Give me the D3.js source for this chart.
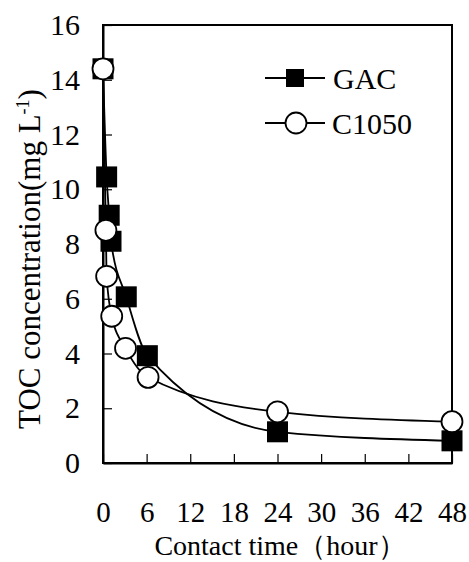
<!DOCTYPE html>
<html lang='en'>
	<head>
		<meta charset='utf-8'>
		<title>TOC concentration vs contact time</title>
		<script type='text/javascript' src='https://cdn.jsdelivr.net/npm/d3@7'></script>
		<style>
			body { margin: 0; background: #fff; }
			text { font-family: 'Liberation Serif', 'Times New Roman', serif; fill: #000; }
		</style>
	</head>
	<body>
		<script type='text/javascript'>
		// data
		var gac_time = [0, 0.5, 0.85, 1.1, 3.2, 6.1, 24, 48];
		var gac_toc  = [14.4, 10.45, 9.05, 8.1, 6.07, 3.92, 1.14, 0.81];
		var c1050_time = [0, 0.4, 0.5, 1.2, 3.1, 6.2, 24, 48];
		var c1050_toc  = [14.4, 8.5, 6.82, 5.36, 4.19, 3.13, 1.87, 1.51];
		var x_ticks = [0, 6, 12, 18, 24, 30, 36, 42, 48];
		var y_ticks = [0, 2, 4, 6, 8, 10, 12, 14, 16];
		var series_names = ['GAC', 'C1050'];

		{
			var width = 469, height = 562;
			var plot_left = 103, plot_right = 452, plot_top = 25, plot_bottom = 463;
			var svg_elem = d3.select('body').append('svg').attr('width', width).attr('height', height)

			var x_scale = d3.scaleLinear().domain([0, 48]).range([plot_left, plot_right])
			var y_scale = d3.scaleLinear().domain([0, 16]).range([plot_bottom, plot_top])

			// frame
			svg_elem.append('rect')
				.attr('x', plot_left).attr('y', plot_top)
				.attr('width', plot_right-plot_left).attr('height', plot_bottom-plot_top)
				.attr('fill', 'none').attr('stroke', '#000').attr('stroke-width', 2)

			// bottom axis, inner ticks
			var xaxis = svg_elem.append('g')
				.attr('transform', 'translate(0,'+plot_bottom+')')
				.call(d3.axisBottom(x_scale).tickValues(x_ticks).tickSizeInner(-9).tickSizeOuter(0).tickPadding(38))
			xaxis.select('.domain').attr('stroke-width', 2)
			xaxis.selectAll('.tick line').attr('stroke-width', 1.2)
			xaxis.selectAll('text').style('font-size', '29px').attr('fill', '#000')

			// left axis, inner ticks
			var yaxis = svg_elem.append('g')
				.attr('transform', 'translate('+plot_left+',0)')
				.call(d3.axisLeft(y_scale).tickValues(y_ticks).tickSizeInner(-9).tickSizeOuter(0).tickPadding(23))
			yaxis.select('.domain').attr('stroke-width', 2)
			yaxis.selectAll('.tick line').attr('stroke-width', 1.2)
			yaxis.selectAll('text').style('font-size', '30px').attr('fill', '#000')

			var line = d3.line()
				.x(d => x_scale(d[0]))
				.y(d => y_scale(d[1]))
				.curve(d3.curveMonotoneX)

			var gac = gac_time.map((t, i) => [t, gac_toc[i]])
			var c1050 = c1050_time.map((t, i) => [t, c1050_toc[i]])

			svg_elem.append('path').datum(gac).attr('d', line)
				.attr('fill', 'none').attr('stroke', '#000').attr('stroke-width', 1.8)
			svg_elem.append('path').datum(c1050).attr('d', line)
				.attr('fill', 'none').attr('stroke', '#000').attr('stroke-width', 1.8)

			var sq = 21, r = 10.5;
			svg_elem.selectAll('rect.gac').data(gac).enter().append('rect')
				.attr('class', 'gac')
				.attr('x', d => x_scale(d[0])-sq/2)
				.attr('y', d => y_scale(d[1])-sq/2)
				.attr('width', sq).attr('height', sq)
				.attr('fill', '#000')
			svg_elem.selectAll('circle.c1050').data(c1050).enter().append('circle')
				.attr('class', 'c1050')
				.attr('cx', d => x_scale(d[0]))
				.attr('cy', d => y_scale(d[1]))
				.attr('r', r)
				.attr('fill', '#fff').attr('stroke', '#000').attr('stroke-width', 1.8)

			// legend
			var legend = svg_elem.append('g').attr('transform', 'translate(265,78)')
			legend.append('line').attr('x1', 0).attr('x2', 60).attr('y1', 0).attr('y2', 0)
				.attr('stroke', '#000').attr('stroke-width', 1.8)
			legend.append('rect').attr('x', 21).attr('y', -9).attr('width', 18).attr('height', 18).attr('fill', '#000')
			legend.append('text').attr('x', 68).attr('y', 0).attr('dy', '0.35em').style('font-size', '30px').text(series_names[0])
			legend.append('line').attr('x1', 0).attr('x2', 60).attr('y1', 45).attr('y2', 45)
				.attr('stroke', '#000').attr('stroke-width', 1.8)
			legend.append('circle').attr('cx', 31).attr('cy', 45).attr('r', 10.5)
				.attr('fill', '#fff').attr('stroke', '#000').attr('stroke-width', 1.8)
			legend.append('text').attr('x', 67).attr('y', 45).attr('dy', '0.35em').style('font-size', '30px').text(series_names[1])

			// axis titles
			svg_elem.append('text')
				.attr('x', 280).attr('y', 555)
				.attr('text-anchor', 'middle').style('font-size', '28px')
				.text('Contact time（hour）')

			var ytitle = svg_elem.append('text')
				.attr('transform', 'translate(40,259) rotate(-90)')
				.attr('text-anchor', 'middle').style('font-size', '31px')
			ytitle.append('tspan').text('TOC concentration(mg L')
			ytitle.append('tspan').attr('dy', -11).style('font-size', '18px').text('-1')
			ytitle.append('tspan').attr('dy', 11).text(')')
		}
		</script>
	</body>
</html>
